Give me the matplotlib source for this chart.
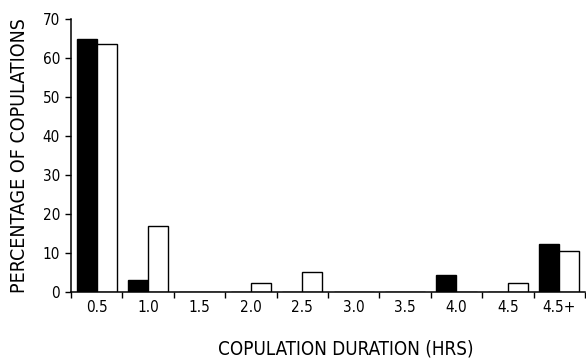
import numpy as np
import matplotlib
matplotlib.use('Agg')
import matplotlib.pyplot as plt

durations = ['0.5', '1.0', '1.5', '2.0', '2.5', '3.0', '3.5', '4.0', '4.5', '4.5+']
black_pct = [65, 3, 0, 0, 0, 0, 0, 4.3, 0, 12.2]
white_pct = [63.7, 17, 0, 2.2, 5.1, 0, 0, 0, 2.4, 10.4]

plt.rcParams['font.family'] = ['DejaVu Sans']
plt.rcParams['font.stretch'] = 'condensed'

fig = plt.figure(figsize=(5.86, 3.6), dpi=100)
ax = fig.add_axes([0.1212, 0.189, 0.877, 0.758])

x = np.arange(len(durations))
w = 0.39
ax.bar(x - w / 2, black_pct, w, color='black', edgecolor='black', linewidth=1)
ax.bar(x + w / 2, white_pct, w, color='white', edgecolor='black', linewidth=1)

ax.set_xlim(-0.5, len(durations) - 0.5)
ax.set_ylim(0, 70)
ax.set_yticks(range(0, 71, 10))

# tick marks sit between groups, labels at group centres
ax.set_xticks(np.arange(-0.5, len(durations), 1.0))
ax.set_xticklabels([])
ax.set_xticks(x, minor=True)
ax.set_xticklabels(durations, minor=True)
ax.tick_params(axis='x', which='minor', length=0, pad=6, labelsize=11)
ax.tick_params(axis='x', which='major', length=4, width=1, direction='out')
ax.tick_params(axis='y', length=4, width=1, direction='out', labelsize=11, pad=4)

for side in ['top', 'right']:
    ax.spines[side].set_visible(False)
for side in ['left', 'bottom']:
    ax.spines[side].set_linewidth(1.1)

ax.set_ylabel('PERCENTAGE OF COPULATIONS', fontsize=14, labelpad=10)
ax.set_xlabel('COPULATION DURATION (HRS)', fontsize=13.5)
ax.xaxis.set_label_coords(0.535, -0.175)

fig.savefig('out.png', dpi=100)
